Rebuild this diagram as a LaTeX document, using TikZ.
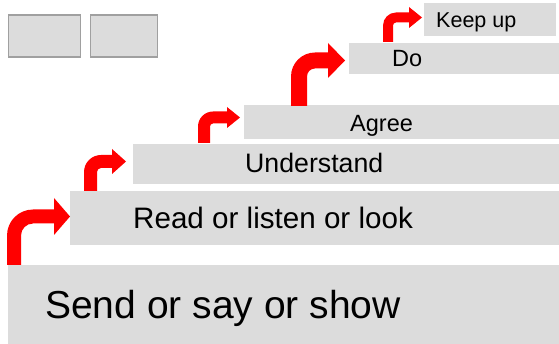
\documentclass[tikz,border=0pt]{standalone}
\usepackage{fontspec}
\setmainfont{Liberation Sans}
\definecolor{bargray}{HTML}{DCDCDC}
\definecolor{boxline}{HTML}{A0A0A0}
\definecolor{arrowred}{HTML}{FF0000}
\tikzset{
  bar/.style={fill=bargray, draw=none},
  smallbox/.style={fill=bargray, draw=boxline, line width=1.2pt},
  label/.style={anchor=base west, inner sep=0pt, text=black},
}
% \bentarrow{xl}{t}{yb}{ys}{xh}{xt}{h}{R}
\newcommand{\bentarrow}[8]{%
  \pgfmathsetmacro{\axl}{#1}\pgfmathsetmacro{\atw}{#2}%
  \pgfmathsetmacro{\ayb}{#3}\pgfmathsetmacro{\ays}{#4}%
  \pgfmathsetmacro{\axh}{#5}\pgfmathsetmacro{\axt}{#6}%
  \pgfmathsetmacro{\ahh}{#7}\pgfmathsetmacro{\aRR}{#8}%
  \pgfmathsetmacro{\arr}{\aRR-\atw}%
  \pgfmathsetmacro{\ayc}{\ays+\atw/2}%
  \pgfmathsetmacro{\axr}{\axl+\atw}%
  \pgfmathsetmacro{\aysb}{\ays+\atw}%
  \fill[arrowred] (\axl,\ayb) -- (\axl,\ays+\aRR)
    .. controls (\axl,\ays+\aRR-0.552*\aRR) and (\axl+\aRR-0.552*\aRR,\ays) .. (\axl+\aRR,\ays)
    -- (\axh,\ays) -- (\axh,\ayc-\ahh) -- (\axt,\ayc) -- (\axh,\ayc+\ahh) -- (\axh,\aysb)
    -- (\axl+\aRR,\aysb)
    .. controls (\axr+\arr-0.552*\arr,\aysb) and (\axr,\aysb+\arr-0.552*\arr) .. (\axr,\aysb+\arr)
    -- (\axr,\ayb) -- cycle;}
\begin{document}
\begin{tikzpicture}[x=1pt,y=-1pt]
\useasboundingbox (0,0) rectangle (559,344);
% small boxes
\node[smallbox, minimum width=72pt, minimum height=42pt, anchor=north west, inner sep=0pt] (b1) at (7.5,14.5) {};
\node[smallbox, minimum width=67pt, minimum height=42pt, anchor=north west, inner sep=0pt] (b2) at (89.5,14.5) {};
% bars
\fill[bar] (8,265) rectangle (559,344);
\fill[bar] (70,191) rectangle (559,245);
\fill[bar] (133,144) rectangle (559,184);
\fill[bar] (244,105) rectangle (559,139);
\fill[bar] (349,43) rectangle (559,74);
\fill[bar] (424,3) rectangle (556,36);
% labels
\node[label, font=\fontsize{39}{41}\selectfont] (send) at (45,319) {Send or say or show};
\node[label, font=\fontsize{29.6}{31}\selectfont] (read) at (133,229) {Read or listen or look};
\node[label, font=\fontsize{26.7}{28}\selectfont] (und) at (245,173) {Understand};
\node[label, font=\fontsize{23.5}{25}\selectfont] (agree) at (350,132) {Agree};
\node[label, font=\fontsize{23.5}{25}\selectfont] (do) at (392,67) {Do};
\node[label, font=\fontsize{21.5}{23}\selectfont] (keep) at (436,28) {Keep up};
% arrows
\bentarrow{7}{14}{265}{209.5}{54}{70}{18.5}{26}
\bentarrow{84}{13}{191}{155}{112}{126}{12.5}{17}
\bentarrow{198}{12}{143}{111.5}{227}{240}{10.5}{15}
\bentarrow{291}{16}{106}{52.5}{328}{345}{17.5}{24}
\bentarrow{383}{10}{42}{12.5}{409}{422}{10.5}{13}
\end{tikzpicture}
\end{document}
